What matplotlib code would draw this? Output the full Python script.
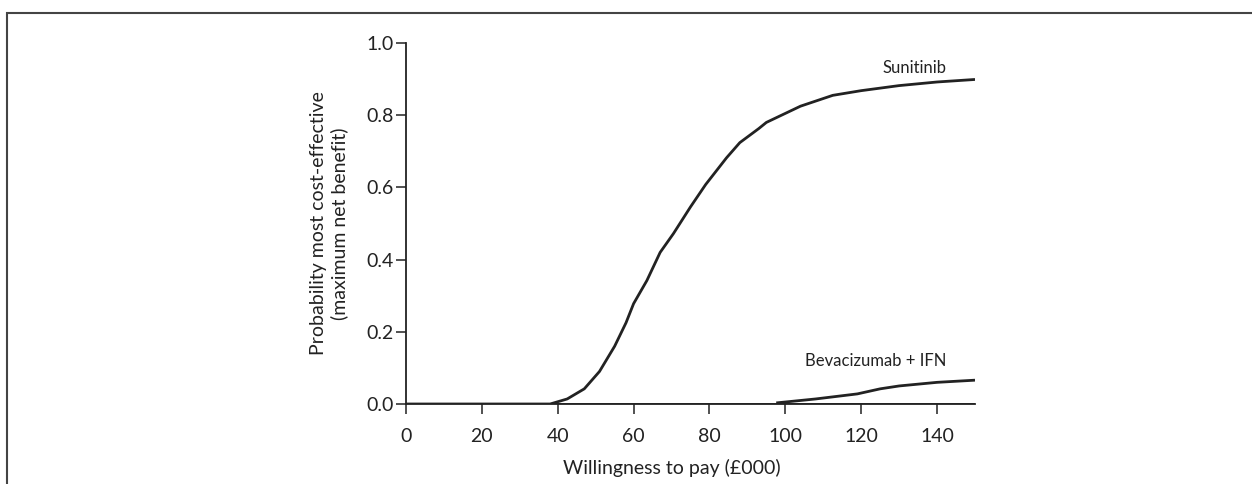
import numpy as np
import matplotlib
matplotlib.use("Agg")
import matplotlib.pyplot as plt
from matplotlib.patches import Rectangle

plt.rcParams['font.family'] = ['Lato', 'DejaVu Sans']

# willingness to pay (£000) and probability most cost-effective
wtp_sun = [0, 38, 42.5, 47, 51, 55, 58, 60, 63.5, 67, 70.5, 75, 79, 84.5,
           88, 93, 95, 100, 104, 112.5, 120, 125, 130, 140, 150]
p_sun = [0, 0, 0.014, 0.042, 0.09, 0.16, 0.225, 0.278, 0.342, 0.42, 0.472,
         0.546, 0.608, 0.682, 0.724, 0.763, 0.78, 0.805, 0.825, 0.855, 0.868,
         0.875, 0.882, 0.892, 0.899]

wtp_bev = [97.6, 108, 119, 125, 130, 140, 150]
p_bev = [0.003, 0.014, 0.028, 0.042, 0.05, 0.06, 0.066]

xticks = [0, 20, 40, 60, 80, 100, 120, 140]
yticks = [0.0, 0.2, 0.4, 0.6, 0.8, 1.0]

ink = '#222222'

fig = plt.figure(figsize=(12.52, 4.84), dpi=100)
ax = fig.add_axes([406 / 1252, 80 / 484, 569 / 1252, 361 / 484])

ax.plot(wtp_sun, p_sun, color=ink, lw=2.0, solid_capstyle='butt',
        solid_joinstyle='round')
ax.plot(wtp_bev, p_bev, color=ink, lw=2.0, solid_capstyle='butt',
        solid_joinstyle='round')
ax.axhline(0, color=ink, lw=1.3)

ax.text(142.5, 0.918, 'Sunitinib', ha='right', va='baseline', fontsize=12, color=ink)
ax.text(142.5, 0.104, 'Bevacizumab + IFN', ha='right', va='baseline', fontsize=12, color=ink)

ax.set_xlim(0, 150)
ax.set_ylim(0, 1.0)
ax.set_xticks(xticks)
ax.set_yticks(yticks)
ax.set_yticklabels(['%.1f' % v for v in yticks])

for s in ['top', 'right']:
    ax.spines[s].set_visible(False)
for s in ['left', 'bottom']:
    ax.spines[s].set_color(ink)
    ax.spines[s].set_linewidth(1.3)
ax.tick_params(axis='y', direction='out', length=7, width=1.1, colors=ink,
               labelsize=14, pad=2)
ax.tick_params(axis='x', direction='out', length=7.5, width=1.1, colors=ink,
               labelsize=14, pad=10)
ax.patch.set_visible(False)

ax.set_xlabel('Willingness to pay (£000)', fontsize=14, color=ink)
ax.xaxis.set_label_coords(70 / 150, -0.152)
ax.set_ylabel('Probability most cost-effective\n(maximum net benefit)',
              fontsize=14, color=ink, linespacing=1.2)
ax.yaxis.set_label_coords(-0.102, 0.5)

# outer frame, cut off at the right and bottom
fig.patches.append(Rectangle((7 / 1252, -0.2), 1.2, 1.2 - 13 / 484,
                             transform=fig.transFigure, fill=False,
                             edgecolor='#444444', lw=1.5))

fig.savefig('out.png', dpi=100)
